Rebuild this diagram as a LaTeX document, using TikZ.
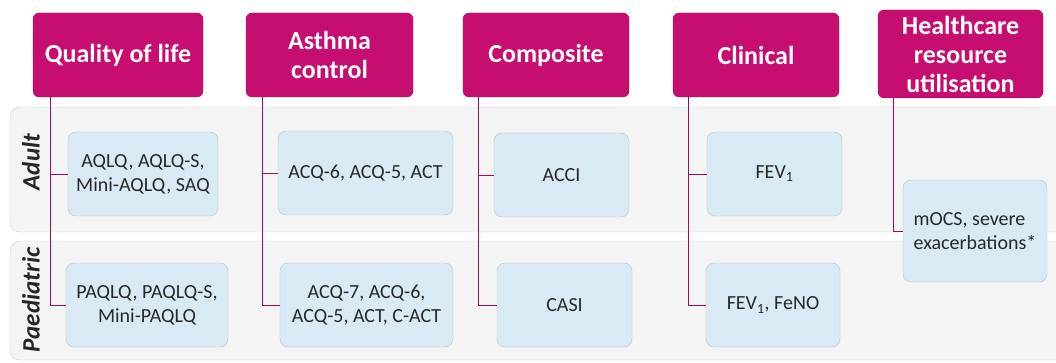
\documentclass[tikz,border=0pt]{standalone}
\usepackage{fontspec}
\setmainfont{Carlito}
\definecolor{headpink}{RGB}{198,14,112}
\definecolor{boxblue}{RGB}{218,234,244}
\definecolor{boxline}{RGB}{178,196,206}
\definecolor{bandgray}{RGB}{244,244,244}
\definecolor{bandline}{RGB}{206,206,206}
\definecolor{textgray}{RGB}{40,40,40}
\begin{document}
\begin{tikzpicture}[x=1pt,y=-1pt,
	head/.style={draw=headpink!85!black, fill=headpink, rounded corners=6pt, text=white,
		font=\fontsize{26}{29}\selectfont\bfseries, align=center, inner sep=0pt, minimum height=84pt},
	item/.style={draw=boxline, fill=boxblue, rounded corners=8pt, text=textgray,
		font=\fontsize{20}{24}\selectfont, align=center, inner sep=0pt, minimum height=84pt},
	band/.style={draw=bandline, fill=bandgray, rounded corners=10pt},
	bandlabel/.style={rotate=90, text=black!85, font=\fontsize{25}{28}\selectfont\bfseries\itshape},
	conn/.style={draw=headpink!80!black, line width=0.8pt}]

	\useasboundingbox (0,0) rectangle (1056,363);

	\path[band] (10,107) rectangle (1075,232);
	\path[band] (10,241) rectangle (1075,360);

	\node[bandlabel] (adult) at (31,162) {Adult};
	\node[bandlabel] (paed) at (31,300) {Paediatric};

	\node[head, minimum width=170pt] (qol) at (118,55) {Quality of life};
	\node[head, minimum width=167pt] (ac) at (329.5,55) {Asthma\\control};
	\node[head, minimum width=166pt] (comp) at (546,55) {Composite};
	\node[head, minimum width=166pt] (clin) at (756,55) {Clinical};
	\node[head, minimum width=165pt, minimum height=88pt] (hru) at (960.5,54) {Healthcare\\resource\\utilisation};

	\node[item, minimum width=150pt] (qolA) at (143,174) {AQLQ, AQLQ-S,\\Mini-AQLQ, SAQ};
	\node[item, minimum width=175pt] (acA) at (365.5,173) {ACQ-6, ACQ-5, ACT};
	\node[item, minimum width=135pt] (compA) at (561.5,175) {ACCI};
	\node[item, minimum width=135pt] (clinA) at (774.5,174) {FEV\textsubscript{1}};

	\node[item, minimum width=162pt] (qolP) at (147,305) {PAQLQ, PAQLQ-S,\\Mini-PAQLQ};
	\node[item, minimum width=173pt] (acP) at (366.5,305) {ACQ-7, ACQ-6,\\ACQ-5, ACT, C-ACT};
	\node[item, minimum width=135pt] (compP) at (564.5,305) {CASI};
	\node[item, minimum width=134pt] (clinP) at (773,305) {FEV\textsubscript{1}, FeNO};

	\node[item, minimum width=144pt, minimum height=102pt, align=left] (hruB) at (975,231) {mOCS, severe\\exacerbations*};

	\foreach \h/\a/\p in {qol/qolA/qolP, ac/acA/acP, comp/compA/compP, clin/clinA/clinP} {
		\draw[conn] ([xshift=-67.5pt]\h.south) |- (\a.west);
		\draw[conn] ([xshift=-67.5pt]\h.south) |- (\p.west);
	}
	\draw[conn] ([xshift=-67.5pt]hru.south) |- (hruB.west);
\end{tikzpicture}
\end{document}
